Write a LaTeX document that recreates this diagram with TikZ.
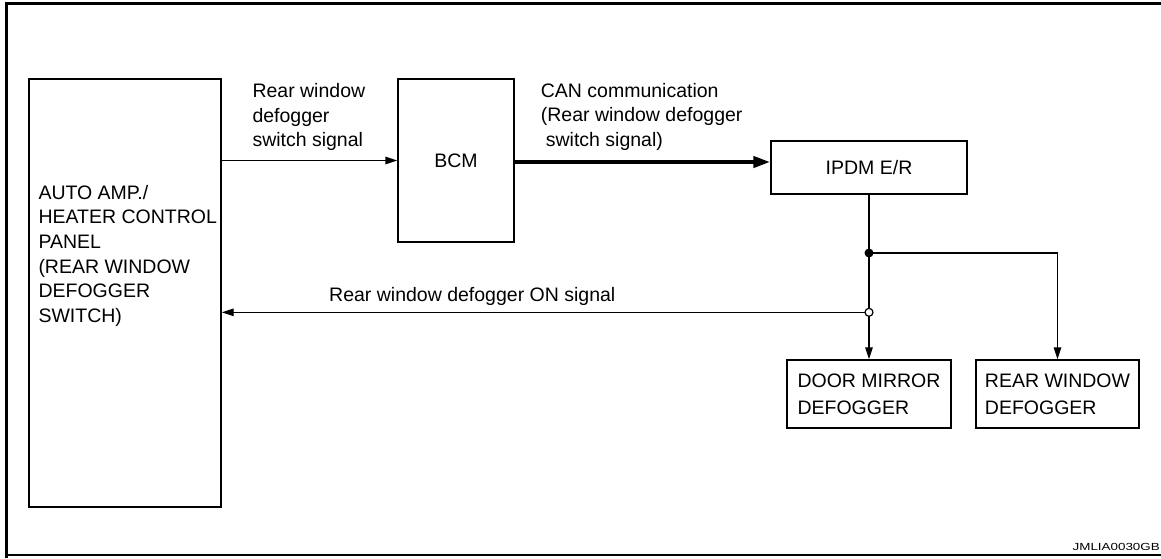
\documentclass[tikz,border=0pt]{standalone}
\usepackage{fontspec}
\setmainfont{Liberation Sans}
\usetikzlibrary{arrows.meta}
\begin{document}
\begin{tikzpicture}[x=1pt,y=-1pt,
  every node/.style={font=\fontsize{19.5}{24.6}\selectfont},
  box/.style={draw, line width=1.4pt, inner sep=0pt},
  lbl/.style={inner sep=0pt, anchor=north west, align=left},
  arr/.style={line width=1.4pt, -{Triangle[length=12pt,width=7.5pt]}},
  thickarr/.style={line width=4pt, -{Triangle[length=17pt,width=11pt]}}
]
\useasboundingbox (0,0) rectangle (1161,558);
% frame
\draw[line width=3pt] (1161,3.7) -- (6,3.7) -- (6,558);
\draw[line width=1.6pt] (6,555) -- (1161,555);
% boxes
\node[box, minimum width=192pt, minimum height=428pt] (auto) at (125,293) {};
\node[lbl] (autotxt) at (38.3,185) {AUTO AMP./\\HEATER CONTROL\\PANEL\\(REAR WINDOW\\DEFOGGER\\SWITCH)};
\node[box, minimum width=116pt, minimum height=163pt] (bcm) at (456,160.5) {BCM};
\node[box, minimum width=196pt, minimum height=53pt] (ipdm) at (869,167.5) {IPDM E/R};
\node[box, minimum width=164pt, minimum height=68pt, align=left,
      font=\fontsize{19.5}{26.7}\selectfont] (door) at (869,394) {DOOR MIRROR\\DEFOGGER};
\node[box, minimum width=163pt, minimum height=68pt, align=left,
      font=\fontsize{19.5}{26.7}\selectfont] (rear) at (1057.5,394) {REAR WINDOW\\DEFOGGER};
% labels
\node[lbl] (l1) at (252.3,83.3) {Rear window\\defogger\\switch signal};
\node[lbl] (l2) at (540.7,82.7) {CAN communication\\(Rear window defogger\\\hspace*{5pt}switch signal)};
\node[lbl] (l3) at (329,287.3) {Rear window defogger ON signal};
\node[inner sep=0pt, anchor=base east, xscale=1.3, font=\fontsize{10.3}{12}\selectfont] (code) at (1160,550.7) {JMLIA0030GB};
% connectors
\coordinate (canY) at (0,162);
\draw[arr] (bcm.west -| auto.east) -- (bcm.west);
\draw[thickarr] (bcm.east |- canY) -- (ipdm.west |- canY);
\coordinate (dotc) at (869,253);
\coordinate (oc) at (869,312.3);
\draw[arr] (ipdm.south) -- (door.north);
\draw[arr] (dotc) -| (rear.north);
\draw[arr] (oc) -- (auto.east |- oc);
\node[circle, fill=black, inner sep=0pt, minimum size=9pt] (dot) at (dotc) {};
\node[circle, draw, line width=1.2pt, fill=white, inner sep=0pt, minimum size=8pt] (ocn) at (oc) {};
\end{tikzpicture}
\end{document}
